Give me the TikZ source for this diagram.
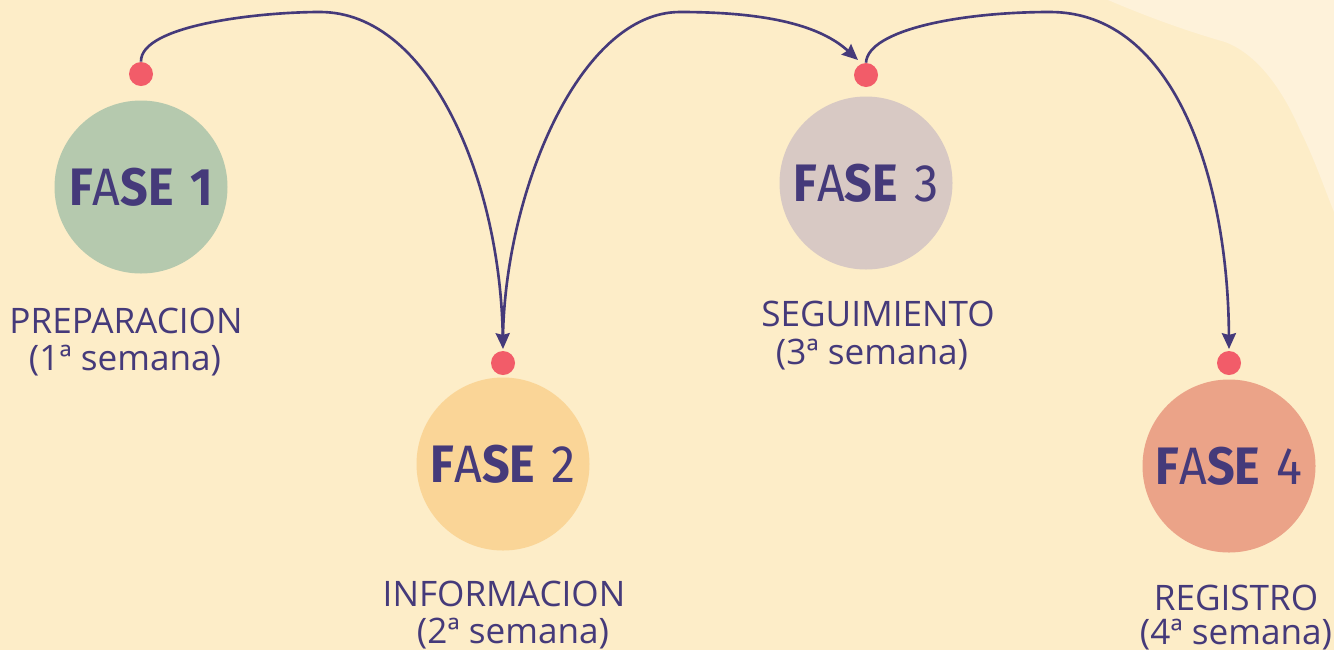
\documentclass[tikz,border=0pt]{standalone}
\usepackage{fontspec}
\setmainfont{Open Sans}
\newfontfamily\fasefont{Fira Sans}
\usetikzlibrary{arrows.meta}
\definecolor{bg}{HTML}{FDEDC8}
\definecolor{blob}{HTML}{FEF2DA}
\definecolor{ink}{HTML}{453A7A}
\definecolor{dotred}{HTML}{F25C69}
\definecolor{cone}{HTML}{B5C9AE}
\definecolor{ctwo}{HTML}{FAD597}
\definecolor{cthree}{HTML}{D8C9C4}
\definecolor{cfour}{HTML}{EBA388}
\newcommand{\fasetext}[2]{\scalebox{0.92}[1]{\fasefont\bfseries F\mdseries A\bfseries SE\,\,#1#2}}
\tikzset{
  phase/.style={circle, minimum size=173*0.02cm, inner sep=0pt, text=ink, font=\fontsize{30}{30}\selectfont},
  reddot/.style={circle, fill=dotred, minimum size=24*0.02cm, inner sep=0pt},
  lbl/.style={text=ink, font=\fontsize{20}{24}\selectfont, align=center, inner sep=0pt},
  link/.style={draw=ink, line width=1.5pt, -{Stealth[length=9pt,width=8pt,inset=1pt]}},
}
\begin{document}
\begin{tikzpicture}[x=0.02cm,y=-0.02cm]
\fill[bg] (0,0) rectangle (1334,650);
\useasboundingbox (0,0) rectangle (1334,650);
\fill[blob] (1108,0) .. controls (1150,18) and (1190,32) .. (1225,42)
  .. controls (1260,55) and (1285,95) .. (1300,130)
  .. controls (1315,160) and (1325,190) .. (1334,212) -- (1334,0) -- cycle;
% circles
\node[phase, fill=cone] (f1) at (141,187) {\fasetext{\bfseries}{1}};
\node[phase, fill=ctwo] (f2) at (503,464) {\fasetext{\mdseries}{2}};
\node[phase, fill=cthree] (f3) at (866,183) {\fasetext{\mdseries}{3}};
\node[phase, fill=cfour] (f4) at (1229,466) {\fasetext{\mdseries}{4}};
% dots
\node[reddot] (d1) at (141,74) {};
\node[reddot] (d2) at (503,363) {};
\node[reddot] (d3) at (866,75) {};
\node[reddot] (d4) at (1229,363) {};
% labels
\node[lbl, anchor=base] (l1a) at (126,333) {PREPARACION};
\node[lbl, anchor=base] (l1b) at (125,370) {(1ª semana)};
\node[lbl, anchor=base] (l2a) at (504,606) {INFORMACION};
\node[lbl, anchor=base] (l2b) at (513,643) {(2ª semana)};
\node[lbl, anchor=base] (l3a) at (878,326) {SEGUIMIENTO};
\node[lbl, anchor=base] (l3b) at (872,364) {(3ª semana)};
\node[lbl, anchor=base] (l4a) at (1236,610) {REGISTRO};
\node[lbl, anchor=base] (l4b) at (1236,644) {(4ª semana)};
% connectors
\coordinate (t2) at (503,349);
\coordinate (t3) at (858,60);
\coordinate (t4) at (1229,349);
\draw[link] (d1.north) .. controls (140,25) and (260,12) .. (320,12)
  .. controls (430,12) and (500,180) .. (t2);
\draw[link] ([yshift=8]t2) .. controls (506,190) and (580,12) .. (680,12)
  .. controls (780,12) and (825,30) .. (t3);
\draw[link] (d3.north) .. controls (868,30) and (960,12) .. (1050,12)
  .. controls (1175,12) and (1228,180) .. (t4);
\end{tikzpicture}
\end{document}
